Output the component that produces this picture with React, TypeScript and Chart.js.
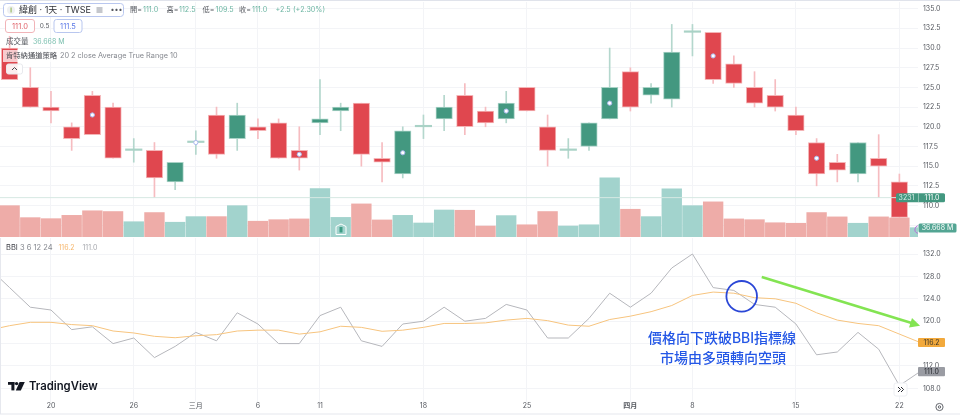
import React, { useEffect, useRef } from "react";
import { Chart, registerables } from "chart.js";

Chart.register(...registerables);

const FONT = 'Inter, "Noto Sans CJK TC", "Noto Sans", sans-serif';

// one entry per trading day
const opens = [130, 125, 122.5, 120, 124, 122.5, 117, 117, 113, 118, 121.5, 118.5, 120, 120.5, 117, 120.5, 122, 123, 116, 114, 120, 121, 124, 122, 121, 125, 120, 117, 117.5, 121, 127, 124, 123.5, 132, 132, 128, 125, 124, 121.5, 118, 115.5, 114, 116, 113, 111];
const highs = [131.5, 127.5, 124.5, 120.5, 124.5, 123, 118.5, 118, 115.5, 119.5, 122.5, 123, 121, 121, 120, 126, 123, 123, 118, 120, 121.5, 124, 125.5, 122.5, 124.5, 125, 121.5, 118.5, 120.5, 130, 127.5, 125.5, 133, 133, 132, 129, 127, 126, 122.5, 118.5, 116.5, 118, 119, 114, 112.5];
const lows = [126, 122.5, 120.5, 117, 119, 116, 115.5, 111, 112, 116.5, 116, 117, 118.5, 116, 114.5, 119, 119.5, 115, 113, 113.5, 118.5, 119.5, 119, 120, 120.5, 122, 115, 116, 117, 121, 122, 123, 122.5, 129, 125.5, 125, 122.5, 122, 119, 112.5, 113, 113, 111, 108.5, 109.5];
const closes = [126, 122.5, 122, 118.5, 119, 116, 117, 113.5, 115.5, 118, 116.5, 121.5, 119.5, 116, 116, 121, 122.5, 116.5, 115.5, 119.5, 120, 122.5, 120, 120.5, 123, 122, 117, 117, 120.5, 125, 122.5, 125, 129.5, 132, 126, 125.5, 123, 122.5, 119.5, 114, 114.5, 118, 115, 108.5, 111];
const volumes = [123, 76, 72, 85, 103, 100, 60, 96, 58, 80, 80, 123, 62, 68, 71, 190, 77, 130, 67, 85, 55, 106, 105, 43, 84, 48, 100, 43, 48, 232, 109, 80, 189, 123, 138, 71, 68, 56, 54, 96, 79, 54, 79, 75, 36.668];
const volumeIsUp = [0, 0, 0, 0, 0, 0, 1, 0, 1, 1, 0, 1, 0, 0, 0, 1, 1, 0, 0, 1, 1, 1, 0, 0, 1, 0, 0, 1, 1, 1, 0, 1, 1, 1, 0, 0, 0, 0, 0, 0, 0, 1, 0, 0, 1];
const bbiValues = [119.2, 119.8, 119.8, 119.4, 119.2, 118.25, 117.9, 117.3, 117.05, 117.4, 117.6, 118.25, 118.4, 118.4, 117.7, 118.1, 119.1, 118.9, 118.2, 118.4, 118.9, 119.6, 119.6, 119.7, 120.2, 120.5, 120.1, 119.3, 119.1, 120.3, 120.9, 121.7, 122.8, 124.6, 125.2, 125, 124.2, 124, 123.2, 121.5, 120.2, 119.6, 119.2, 117.7, 116.2];
const previousClose = 129.5;
const previousBbi = 118.4;
const lastPrice = 111;
const dotIndices = [4, 9, 14, 19, 24, 29, 34, 39];
const dotPrices = [121.5, 118, 116.5, 116.7, 122, 123, 129, 116];
const dateIndices = [2, 6, 9, 12, 15, 20, 25, 30, 33, 38, 43];
const dateLabels = ["20", "26", "三月", "6", "11", "18", "25", "四月", "8", "15", "22"];
const priceTicks = [110, 112.5, 115, 117.5, 120, 122.5, 125, 127.5, 130, 132.5, 135];
const gridOnlyPriceTicks = [107.5];
const bbiTicks = [108, 112, 116, 120, 124, 128, 132];

const RED = "#e0474f";
const RED_EDGE = "#f4b4b6";
const RED_WICK = "#f6bcc0";
const GREEN = "#439880";
const GREEN_EDGE = "#a9d2c6";
const GREEN_WICK = "#b4d7cd";
const GRID = "#f3f4f7";
const AXIS_TEXT = "#55585f";
const X_MIN = -0.464;
const X_MAX = 43.9;

const isDown = (i: number) => closes[i] < opens[i];

function txt(ctx: CanvasRenderingContext2D, s: string, x: number, y: number, color: string, size = 8, align: CanvasTextAlign = "left", weight = "400") {
  ctx.font = `${weight} ${size}px ${FONT}`;
  ctx.fillStyle = color;
  ctx.textAlign = align;
  ctx.textBaseline = "middle";
  ctx.fillText(s, x, y);
}

function box(ctx: CanvasRenderingContext2D, x: number, y: number, w: number, h: number, r: number, fill: string | null, stroke?: string) {
  ctx.beginPath();
  ctx.roundRect(x, y, w, h, r);
  if (fill) {
    ctx.fillStyle = fill;
    ctx.fill();
  }
  if (stroke) {
    ctx.strokeStyle = stroke;
    ctx.lineWidth = 1;
    ctx.stroke();
  }
}

const mainOverlay = {
  id: "mainOverlay",
  afterDraw(chart: any) {
    const ctx: CanvasRenderingContext2D = chart.ctx;
    const price = chart.scales.yPrice;
    ctx.save();
    ctx.fillStyle = "#e0e3eb";
    ctx.fillRect(0, 0, 960, 1);

    // symbol box
    box(ctx, 3.5, 3.5, 120, 13, 3, "rgba(255,255,255,0.9)", "#b9c7ef");
    ctx.beginPath();
    ctx.arc(11, 10, 4, 0, Math.PI * 2);
    ctx.fillStyle = "#eef0f3";
    ctx.fill();
    ctx.fillStyle = "#a9c47a";
    ctx.fillRect(10.4, 7.5, 1.4, 5);
    txt(ctx, "緯創 · 1天 · TWSE", 19, 10.3, "#2f3138", 9);
    ctx.fillStyle = "#c5c7cc";
    ctx.fillRect(96.5, 7, 6, 6);
    txt(ctx, "•••", 110.5, 9.8, "#55585f", 7);

    const ohlc: [string, number, string][] = [
      ["開=", 130, "#55585f"], ["111.0", 143, "#6db6a3"],
      ["高=", 166.5, "#55585f"], ["112.5", 179, "#6db6a3"],
      ["低=", 202.5, "#55585f"], ["109.5", 215.5, "#6db6a3"],
      ["收=", 239, "#55585f"], ["111.0", 252, "#6db6a3"],
      ["+2.5", 275.5, "#6db6a3"], ["(+2.30%)", 293, "#6db6a3"],
    ];
    ohlc.forEach(([s, x, c]) => txt(ctx, s, x, 10.3, c, 7.2));

    // bid / ask row
    box(ctx, 5.5, 19.5, 29, 13, 2.5, "rgba(255,255,255,0.9)", "#f1b4b8");
    txt(ctx, "111.0", 20, 26.3, "#e0646b", 7.5, "center");
    txt(ctx, "0.5", 44.5, 26.3, "#55585f", 6.5, "center");
    box(ctx, 54, 19.5, 28, 13, 2.5, "rgba(255,255,255,0.9)", "#b9c7ef");
    txt(ctx, "111.5", 68, 26.3, "#5b78e6", 7.5, "center");

    // indicator legends
    txt(ctx, "成交量", 6, 42, "#55585f", 7.5);
    txt(ctx, "36.668 M", 33, 42, "#7cc0b0", 7);
    ctx.fillStyle = "rgba(255,255,255,0.72)";
    ctx.fillRect(3, 50, 56, 12);
    txt(ctx, "肯特納通道策略", 6, 56, "#43454c", 7.3);
    txt(ctx, "20 2 close Average True Range 10", 60, 56, "#85888f", 7.3);
    box(ctx, 6.5, 64, 16, 10, 2, "rgba(255,255,255,0.9)", "#e8e9ed");
    ctx.strokeStyle = "#43454c";
    ctx.lineWidth = 1;
    ctx.beginPath();
    ctx.moveTo(12, 70);
    ctx.lineTo(14.5, 67.5);
    ctx.lineTo(17, 70);
    ctx.stroke();

    // earnings marker on the volume bar
    ctx.strokeStyle = "#ffffff";
    ctx.lineWidth = 1;
    ctx.beginPath();
    ctx.moveTo(336, 234.5);
    ctx.lineTo(336, 226.5);
    ctx.lineTo(341, 224);
    ctx.lineTo(346, 226.5);
    ctx.lineTo(346, 234.5);
    ctx.closePath();
    ctx.stroke();
    ctx.fillStyle = "#3f9c84";
    ctx.fillRect(339.5, 227, 3, 5.5);

    // last price tag
    const py = price.getPixelForValue(lastPrice);
    box(ctx, 896, py - 4.5, 49, 9, 1.5, GREEN);
    txt(ctx, "3231", 906.5, py + 0.3, "#d6ebe4", 7, "center");
    ctx.fillStyle = "#bfdcd3";
    ctx.fillRect(918, py - 4.5, 0.6, 9);
    txt(ctx, "111.0", 932, py + 0.3, "#ffffff", 7, "center");

    // volume tag and live marker
    ctx.strokeStyle = "#b46bd8";
    ctx.lineWidth = 1;
    ctx.beginPath();
    ctx.arc(919, 229.5, 4, Math.PI * 0.6, Math.PI * 1.4);
    ctx.stroke();
    box(ctx, 918.5, 223.5, 38, 9, 1.5, "#53a593");
    txt(ctx, "36.668 M", 937.5, 228.3, "#ffffff", 7, "center");
    ctx.restore();
  },
};

const subOverlay = {
  id: "subOverlay",
  afterDraw(chart: any) {
    const ctx: CanvasRenderingContext2D = chart.ctx;
    const sx = chart.scales.x;
    const sy = chart.scales.yBbi;
    ctx.save();

    ctx.fillStyle = "#e6e8ee";
    ctx.fillRect(0, 175.5, 960, 1);
    ctx.fillRect(0, 0, 1, 176);

    txt(ctx, "BBI", 6, 9.6, "#43454c", 7.5);
    txt(ctx, "3 6 12 24", 20, 9.6, "#85888f", 7.5);
    txt(ctx, "116.2", 58.5, 9.6, "#f6b56a", 7);
    txt(ctx, "111.0", 82.5, 9.6, "#a5a7ad", 7);

    // price break-down annotation
    ctx.strokeStyle = "#2b47d6";
    ctx.lineWidth = 1.8;
    ctx.beginPath();
    ctx.arc(sx.getPixelForValue(35.38), sy.getPixelForValue(124.45), 15.3, 0, Math.PI * 2);
    ctx.stroke();

    const ax = sx.getPixelForValue(36.35);
    const ay = sy.getPixelForValue(127.9);
    const bx = sx.getPixelForValue(44);
    const by = sy.getPixelForValue(119.2);
    const ang = Math.atan2(by - ay, bx - ax);
    ctx.strokeStyle = "#83e452";
    ctx.fillStyle = "#83e452";
    ctx.lineWidth = 2.6;
    ctx.beginPath();
    ctx.moveTo(ax, ay);
    ctx.lineTo(bx - 8 * Math.cos(ang), by - 8 * Math.sin(ang));
    ctx.stroke();
    ctx.beginPath();
    ctx.moveTo(bx, by);
    ctx.lineTo(bx - 10 * Math.cos(ang) + 5 * Math.sin(ang), by - 10 * Math.sin(ang) - 5 * Math.cos(ang));
    ctx.lineTo(bx - 10 * Math.cos(ang) - 5 * Math.sin(ang), by - 10 * Math.sin(ang) + 5 * Math.cos(ang));
    ctx.closePath();
    ctx.fill();

    txt(ctx, "價格向下跌破BBI指標線", 722, 100.5, "#2457e6", 14, "center", "500");
    txt(ctx, "市場由多頭轉向空頭", 723, 120.5, "#2457e6", 14, "center", "500");

    // price tags
    const oy = sy.getPixelForValue(116.2);
    box(ctx, 918, oy - 4.6, 27, 9.2, 1, "#f2a93c");
    txt(ctx, "116.2", 931.5, oy + 0.3, "#3b3528", 7, "center");
    const gy = sy.getPixelForValue(111);
    box(ctx, 918, gy - 4.6, 27, 9.2, 1, "#9a9ca3");
    txt(ctx, "111.0", 931.5, gy + 0.3, "#26282e", 7, "center");

    // TradingView mark
    const L = 145; // baseline of the logo row
    ctx.fillStyle = "#131722";
    ctx.fillRect(8, L - 1, 6.4, 2.8);
    ctx.fillRect(11.4, L - 1, 3, 8.4);
    ctx.beginPath();
    ctx.arc(16.6, L + 0.6, 1.7, 0, Math.PI * 2);
    ctx.fill();
    ctx.beginPath();
    ctx.moveTo(19.6, L - 1);
    ctx.lineTo(24.8, L - 1);
    ctx.lineTo(20.8, L + 7.4);
    ctx.lineTo(15.8, L + 7.4);
    ctx.closePath();
    ctx.fill();
    txt(ctx, "TradingView", 29, 149, "#131722", 11.3, "left", "600");

    // scroll button
    box(ctx, 894, 145, 13, 13, 2, "#ffffff", "#eceef2");
    ctx.strokeStyle = "#26282e";
    ctx.lineWidth = 1;
    ctx.beginPath();
    ctx.moveTo(898, 149);
    ctx.lineTo(900.5, 151.5);
    ctx.lineTo(898, 154);
    ctx.moveTo(901, 149);
    ctx.lineTo(903.5, 151.5);
    ctx.lineTo(901, 154);
    ctx.stroke();

    // settings glyph
    ctx.strokeStyle = "#55585f";
    ctx.lineWidth = 0.9;
    ctx.beginPath();
    ctx.arc(939.5, 169, 3.6, 0, Math.PI * 2);
    ctx.stroke();
    ctx.beginPath();
    ctx.arc(939.5, 169, 1.2, 0, Math.PI * 2);
    ctx.stroke();
    ctx.restore();
  },
};

const noPadding = (scale: any) => {
  scale.paddingTop = 0;
  scale.paddingBottom = 0;
  scale.paddingLeft = 0;
  scale.paddingRight = 0;
};

const xScale = (showLabels: boolean) => ({
  type: "linear" as const,
  offset: false,
  min: X_MIN,
  max: X_MAX,
  afterBuildTicks(scale: any) {
    scale.ticks = dateIndices.map((value) => ({ value }));
  },
  afterFit(scale: any) {
    scale.height = showLabels ? 12 : 0;
    noPadding(scale);
  },
  border: { display: false },
  grid: { color: GRID, lineWidth: 1, drawTicks: false, offset: false },
  ticks: {
    display: showLabels,
    autoSkip: false,
    maxRotation: 0,
    padding: 0,
    color: AXIS_TEXT,
    font: (ctx: any) => {
      const label = dateLabels[dateIndices.indexOf(ctx.tick?.value)];
      return { family: FONT, size: 7, weight: label === "四月" ? "600" : "400" } as any;
    },
    callback: (value: number) => dateLabels[dateIndices.indexOf(value)] ?? "",
  },
});

export default function App() {
  const mainRef = useRef<HTMLCanvasElement>(null);
  const subRef = useRef<HTMLCanvasElement>(null);

  useEffect(() => {
    document.body.style.margin = "0";
    const idx = closes.map((_, i) => i);

    const main = new Chart(mainRef.current!, {
      type: "bar",
      plugins: [mainOverlay],
      data: {
        datasets: [
          {
            type: "line",
            order: 1,
            yAxisID: "yPrice",
            data: dotIndices.map((x, k) => ({ x, y: dotPrices[k] })),
            showLine: false,
            pointRadius: 2.1,
            pointBorderWidth: 1,
            pointBackgroundColor: "#ffffff",
            pointBorderColor: "#aab8ee",
          },
          {
            type: "line",
            order: 2,
            yAxisID: "yPrice",
            data: [{ x: -1, y: lastPrice }, { x: 45, y: lastPrice }],
            borderColor: "#d6e8e3",
            borderWidth: 1,
            pointRadius: 0,
          },
          {
            order: 3,
            grouped: false,
            yAxisID: "yVol",
            barThickness: 19.7,
            data: idx.map((i) => ({ x: i, y: volumes[i] })),
            backgroundColor: idx.map((i) => (volumeIsUp[i] ? "#a2d3cd" : "#eeaca8")),
          },
          {
            order: 4,
            grouped: false,
            yAxisID: "yPrice",
            barThickness: 16.5,
            minBarLength: 1.5,
            borderSkipped: false,
            borderWidth: idx.map((i) => (closes[i] === opens[i] ? 0 : 1)),
            data: idx.map((i) => ({ x: i, y: [opens[i], closes[i]] })),
            backgroundColor: idx.map((i) => (closes[i] === opens[i] ? GREEN_EDGE : isDown(i) ? RED : GREEN)),
            borderColor: idx.map((i) => (isDown(i) ? RED_EDGE : GREEN_EDGE)),
          },
          {
            order: 5,
            grouped: false,
            yAxisID: "yPrice",
            barThickness: 1,
            data: idx.map((i) => ({ x: i, y: [lows[i], highs[i]] })),
            backgroundColor: idx.map((i) => (isDown(i) ? RED_WICK : GREEN_WICK)),
          },
        ] as any,
      },
      options: {
        animation: false,
        responsive: false,
        events: [],
        layout: { autoPadding: false, padding: { top: 2, bottom: 1, left: 0, right: 0 } },
        plugins: { legend: { display: false }, tooltip: { enabled: false } },
        scales: {
          x: xScale(false),
          yPrice: {
            position: "right",
            min: 106,
            max: 135.85,
            afterFit(scale: any) {
              scale.width = 42;
              noPadding(scale);
            },
            afterBuildTicks(scale: any) {
              scale.ticks = [...gridOnlyPriceTicks, ...priceTicks].map((value) => ({ value }));
            },
            border: { display: false },
            grid: { color: GRID, drawTicks: false },
            ticks: {
              autoSkip: false,
              padding: 5,
              color: AXIS_TEXT,
              font: { family: FONT, size: 7 },
              callback: (v: number) => (gridOnlyPriceTicks.includes(v) ? "" : v.toFixed(1)),
            },
          },
          yVol: { display: false, min: 0, max: 923 },
        },
      } as any,
    });

    const sub = new Chart(subRef.current!, {
      type: "line",
      plugins: [subOverlay],
      data: {
        datasets: [
          {
            yAxisID: "yBbi",
            order: 2,
            data: [{ x: -1, y: previousClose }, ...idx.map((i) => ({ x: i, y: closes[i] }))],
            borderColor: "#b6b7bc",
            borderWidth: 1,
            pointRadius: 0,
          },
          {
            yAxisID: "yBbi",
            order: 1,
            data: [{ x: -1, y: previousBbi }, ...idx.map((i) => ({ x: i, y: bbiValues[i] }))],
            borderColor: "#f7c47e",
            borderWidth: 1,
            pointRadius: 0,
          },
        ],
      },
      options: {
        animation: false,
        responsive: false,
        events: [],
        layout: { autoPadding: false, padding: { top: 0, bottom: 2, left: 0, right: 0 } },
        plugins: { legend: { display: false }, tooltip: { enabled: false } },
        scales: {
          x: xScale(true),
          yBbi: {
            position: "right",
            min: 105.57,
            max: 134.86,
            afterFit(scale: any) {
              scale.width = 42;
              noPadding(scale);
            },
            afterBuildTicks(scale: any) {
              scale.ticks = bbiTicks.map((value) => ({ value }));
            },
            border: { display: false },
            grid: { color: GRID, drawTicks: false },
            ticks: {
              autoSkip: false,
              padding: 5,
              color: AXIS_TEXT,
              font: { family: FONT, size: 7 },
              callback: (v: number) => v.toFixed(1),
            },
          },
        },
      } as any,
    });

    return () => {
      main.destroy();
      sub.destroy();
    };
  }, []);

  const soft = { position: "absolute" as const, left: 0, display: "block", filter: "blur(0.3px)" };
  return (
    <div style={{ position: "fixed", left: 0, top: 0, width: 960, height: 416, background: "#ffffff", overflow: "hidden" }}>
      <canvas ref={mainRef} width={960} height={238} style={{ ...soft, top: 0 }} />
      <canvas ref={subRef} width={960} height={178} style={{ ...soft, top: 238 }} />
    </div>
  );
}
